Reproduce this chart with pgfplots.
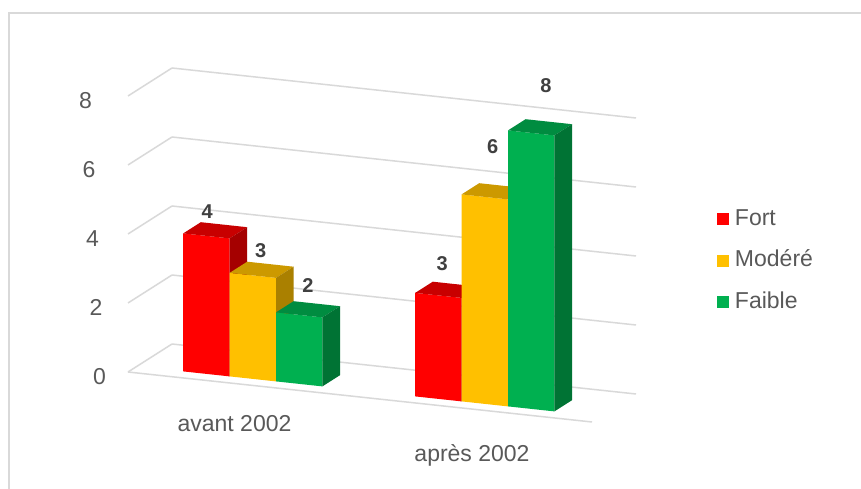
\documentclass[border=0pt]{standalone}
\usepackage{pgfplots}
\pgfplotsset{compat=1.18}
\usepackage{fontspec}
\setmainfont{Liberation Sans}
\definecolor{gridc}{RGB}{217,217,217}
\definecolor{txt}{RGB}{89,89,89}
\definecolor{lbl}{RGB}{64,64,64}
\definecolor{rF}{RGB}{255,0,0}
\definecolor{rT}{RGB}{200,0,0}
\definecolor{rS}{RGB}{165,0,0}
\definecolor{yF}{RGB}{255,192,0}
\definecolor{yT}{RGB}{204,153,0}
\definecolor{yS}{RGB}{170,128,0}
\definecolor{gF}{RGB}{0,176,80}
\definecolor{gT}{RGB}{0,140,64}
\definecolor{gS}{RGB}{0,115,52}
% #1 left x, #2 right x, #3 value, #4 colour prefix (front F, top T, side S)
\newcommand{\cube}[4]{%
  \addplot3[forget plot, fill=#4F, draw=none] coordinates {(#1,0.2,0) (#2,0.2,0) (#2,0.2,#3) (#1,0.2,#3)};
  \addplot3[forget plot, fill=#4T, draw=none] coordinates {(#1,0.2,#3) (#2,0.2,#3) (#2,0.6,#3) (#1,0.6,#3)};
  \addplot3[forget plot, fill=#4S, draw=none] coordinates {(#2,0.2,0) (#2,0.6,0) (#2,0.6,#3) (#2,0.2,#3)};
}
% data label: #1 centre x, #2 value, #3 xshift, #4 yshift
\newcommand{\lab}[4]{%
  \addplot3[forget plot, only marks, mark=*, mark options={draw=none,fill=none},
    point meta=z, nodes near coords,
    nodes near coords style={font=\bfseries\fontsize{20}{24}\selectfont, text=lbl,
      anchor=center, xshift=#3pt, yshift=#4pt}]
    coordinates {(#1,0.4,#2)};
}
\begin{document}
\begin{tikzpicture}
\path[use as bounding box] (0,0) rectangle (861pt,489pt);
\fill[white] (0,0) rectangle (861pt,489pt);
\draw[gridc, line width=1.5pt] (9pt,-2pt) -- (9pt,476pt) -- (863pt,476pt);
\begin{axis}[
  anchor=origin, at={(128pt,117pt)},
  x={(232pt,-25pt)}, y={(44pt,28pt)}, z={(0pt,34.5pt)},
  xmin=0, xmax=2, ymin=0, ymax=1, zmin=0, zmax=8,
  clip=false, no markers,
  axis line style={draw=none},
  major tick length=0pt,
  /pgf/number format/assume math mode=true,
  xtick={0.5,1.5}, xticklabels={avant 2002, après 2002},
  ytick=\empty,
  ztick={0,2,4,6,8},
  zmajorgrids=true, xmajorgrids=false, ymajorgrids=false,
  major grid style={gridc, line width=1.5pt},
  tick label style={font=\fontsize{23}{27}\selectfont, text=txt},
  xticklabel style={anchor=base, inner sep=0pt,
    xshift=-9.5pt+5.5pt*\ticknum, yshift=-47pt-5pt*\ticknum},
  zticklabel style={anchor=east, inner sep=0pt,
    xshift=-22pt-3.5pt*\ticknum, yshift=-4.5pt},
  legend style={at={(1.159,0.456)}, anchor=west, draw=none, fill=none,
    font=\fontsize{23}{27}\selectfont, text=txt, inner sep=0pt,
    row sep=19.5pt, column sep=6pt,
    nodes={inner sep=0pt, text height=17pt, text depth=5pt}},
  legend cell align=left,
]
\addplot3[forget plot, gridc, line width=1.5pt] coordinates {(0,0,0) (2,0,0)};
% avant 2002
\cube{0.2}{0.4}{4}{r}
\cube{0.4}{0.6}{3}{y}
\cube{0.6}{0.8}{2}{g}
% apres 2002
\cube{1.2}{1.4}{3}{r}
\cube{1.4}{1.6}{6}{y}
\cube{1.6}{1.8}{8}{g}
% data labels
\lab{0.3}{4}{-8}{19}
\lab{0.5}{3}{-1}{19}
\lab{0.7}{2}{0}{24}
\lab{1.3}{3}{-5}{26}
\lab{1.5}{6}{-1}{45}
\lab{1.7}{8}{6}{42}
\addlegendimage{fill=rF, draw=none, legend image code/.code={\fill (0pt,-6pt) rectangle (12pt,6pt);}}
\addlegendentry{Fort}
\addlegendimage{fill=yF, draw=none, legend image code/.code={\fill (0pt,-6pt) rectangle (12pt,6pt);}}
\addlegendentry{Modéré}
\addlegendimage{fill=gF, draw=none, legend image code/.code={\fill (0pt,-6pt) rectangle (12pt,6pt);}}
\addlegendentry{Faible}
\end{axis}
\end{tikzpicture}
\end{document}
